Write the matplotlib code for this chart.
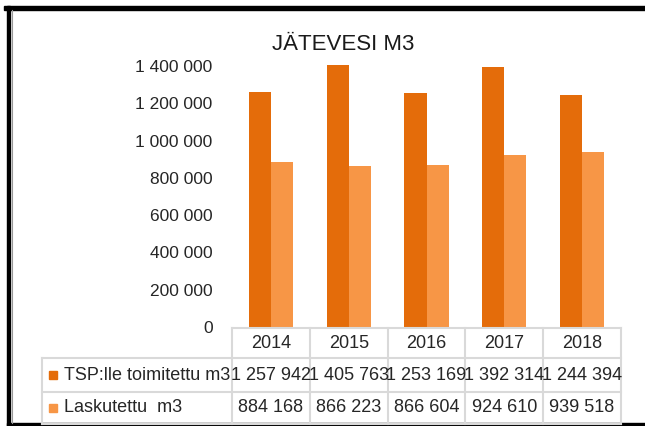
import matplotlib.pyplot as plt
from matplotlib.patches import Rectangle
from matplotlib.lines import Line2D

plt.rcParams['font.family'] = ['Liberation Sans', 'DejaVu Sans']

years = ['2014', '2015', '2016', '2017', '2018']
toimitettu = [1257942, 1405763, 1253169, 1392314, 1244394]
laskutettu = [884168, 866223, 866604, 924610, 939518]
series_names = ['TSP:lle toimitettu m3', 'Laskutettu  m3']
yticks = [0, 200000, 400000, 600000, 800000, 1000000, 1200000, 1400000]

dark = '#E46C0A'
light = '#F79646'
grid = '#D9D9D9'
txt = '#262626'

W, H = 645, 426
fig = plt.figure(figsize=(W / 100, H / 100), dpi=100)


def fx(x):
    return x / W


def fy(y):
    return 1 - y / H


def fmt(v):
    return f'{v:,}'.replace(',', ' ')


# plot area in pixel coords
left, right, top, bottom = 232, 621, 66, 327
ax = fig.add_axes([fx(left), fy(bottom), fx(right - left), (bottom - top) / H])
x = list(range(len(years)))
bw = 0.285
ax.bar([i - bw / 2 for i in x], toimitettu, bw, color=dark, clip_on=False)
ax.bar([i + bw / 2 for i in x], laskutettu, bw, color=light, clip_on=False)
ax.set_xlim(-0.5, len(years) - 0.5)
ax.set_ylim(0, 1400000)
ax.set_yticks(yticks)
ax.set_yticklabels([fmt(v) for v in yticks], fontsize=12.5, color=txt)
ax.tick_params(axis='y', length=0, pad=14)
ax.set_xticks([])
for s in ax.spines.values():
    s.set_visible(False)

fig.text(fx(272), fy(45), 'JÄTEVESI M3', ha='left', va='center', fontsize=16, color='#1a1a1a')

# data table
col_w = (right - left) / len(years)
rows_y = [328, 358, 392, 424]
tleft = 42
lw = 1.5
for y in rows_y:
    x0 = left if y == rows_y[0] else tleft
    fig.add_artist(Line2D([fx(x0), fx(right)], [fy(y), fy(y)], color=grid, lw=lw))
for i in range(len(years) + 1):
    xx = left + i * col_w
    fig.add_artist(Line2D([fx(xx), fx(xx)], [fy(rows_y[0]), fy(rows_y[-1])], color=grid, lw=lw))
fig.add_artist(Line2D([fx(tleft), fx(tleft)], [fy(rows_y[1]), fy(rows_y[-1])], color=grid, lw=lw))

for i, yr in enumerate(years):
    cx = left + (i + 0.5) * col_w
    fig.text(fx(cx), fy((rows_y[0] + rows_y[1]) / 2), yr, ha='center', va='center', fontsize=13, color=txt)
    fig.text(fx(cx), fy((rows_y[1] + rows_y[2]) / 2), fmt(toimitettu[i]), ha='center', va='center', fontsize=13, color=txt)
    fig.text(fx(cx), fy((rows_y[2] + rows_y[3]) / 2), fmt(laskutettu[i]), ha='center', va='center', fontsize=13, color=txt)

for r, (name, c) in enumerate(zip(series_names, [dark, light])):
    cy = (rows_y[r + 1] + rows_y[r + 2]) / 2
    fig.add_artist(Rectangle((fx(49), fy(cy + 4)), fx(8), 8 / H, color=c))
    fig.text(fx(64), fy(cy), name, ha='left', va='center', fontsize=13, color=txt)

# outer frame
fig.add_artist(Rectangle((fx(4), fy(10)), fx(641), 4 / H, color='black'))
fig.add_artist(Rectangle((fx(7), 0), fx(3), fy(6), color='black'))
fig.add_artist(Rectangle((fx(7), 0), fx(638), 3 / H, color='black'))
fig.add_artist(Line2D([fx(11.5), fx(11.5)], [fy(10), fy(423)], color='#999999', lw=0.8))

fig.savefig('out.png', dpi=100)
